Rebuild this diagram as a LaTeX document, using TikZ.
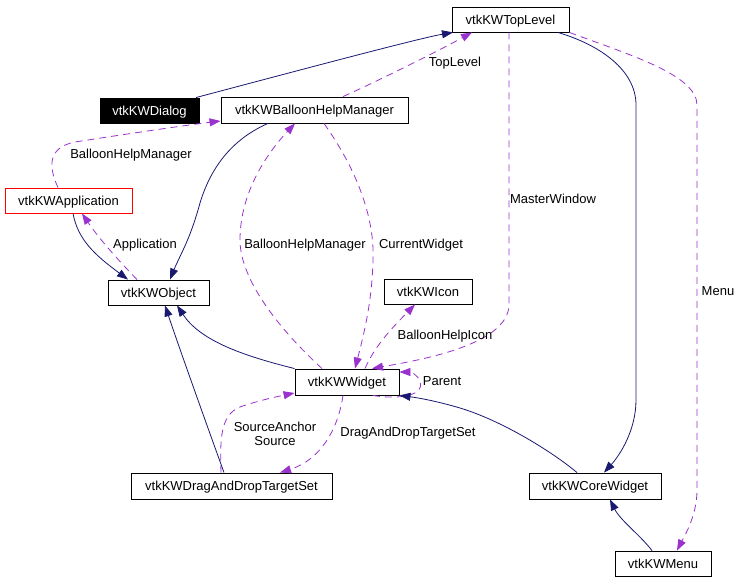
\documentclass[tikz,border=0pt]{standalone}
\usepackage{fontspec}
\setmainfont{Liberation Sans}
\usetikzlibrary{arrows.meta}
\definecolor{navy}{HTML}{191970}
\definecolor{purp}{HTML}{9A32CD}
\begin{document}
\begin{tikzpicture}[x=1pt,y=-1pt,
  cls/.style={draw=black, line width=0.9pt, inner sep=0pt, minimum height=25pt, text height=11pt, text depth=1.7pt, font=\fontsize{13}{15}\selectfont},
  lbl/.style={inner sep=0pt, align=center, font=\fontsize{13}{14}\selectfont},
  inh/.style={draw=navy, line width=0.8pt, -{Triangle[length=11pt,width=8pt]}},
  use/.style={draw=purp, line width=0.8pt, dash pattern=on 7pt off 5pt, -{Triangle[length=11pt,width=8pt]}}]
\useasboundingbox (0,0) rectangle (737,581);
% nodes
\node[cls, minimum width=117pt] (TL) at (510.5,19.5) {vtkKWTopLevel};
\node[cls, minimum width=99pt, fill=black, text=white] (DLG) at (149.5,110.5) {vtkKWDialog};
\node[cls, minimum width=187pt, minimum height=26pt] (BHM) at (314.5,110) {vtkKWBalloonHelpManager};
\node[cls, minimum width=127pt, draw=red] (APP) at (68.5,200.5) {vtkKWApplication};
\node[cls, minimum width=101pt] (OBJ) at (158.5,292.5) {vtkKWObject};
\node[cls, minimum width=88pt] (ICON) at (428,291.5) {vtkKWIcon};
\node[cls, minimum width=104pt, minimum height=26pt] (W) at (347,382) {vtkKWWidget};
\node[cls, minimum width=201pt, minimum height=26pt] (DND) at (231.5,486) {vtkKWDragAndDropTargetSet};
\node[cls, minimum width=132pt, minimum height=26pt] (CW) at (595,486) {vtkKWCoreWidget};
\node[cls, minimum width=96pt] (MENU) at (663,563.5) {vtkKWMenu};
% edges
\draw[inh] ([xshift=46.5pt]DLG.north) .. controls (300,70) and (420,38) .. ([xshift=-57.5pt]TL.south);
\draw[use] ([xshift=28.5pt]BHM.north) .. controls (380,80) and (440,50) .. ([xshift=-38.5pt]TL.south);
\draw[use] ([xshift=-10.5pt]APP.north) .. controls (50,170) and (45,148) .. (75,142) .. controls (120,135) and (180,126) .. ([yshift=-11pt]BHM.west);
\draw[inh] ([xshift=-46.5pt]BHM.south) .. controls (230,140) and (210,170) .. (200,203) .. controls (190,240) and (180,255) .. ([xshift=11.5pt]OBJ.north);
\draw[inh] ([xshift=4.5pt]APP.south) .. controls (78,240) and (95,255) .. ([xshift=-30.5pt]OBJ.north);
\draw[use] ([xshift=-21.5pt]OBJ.north) .. controls (120,262) and (100,240) .. ([xshift=13.5pt]APP.south);
\draw[inh] (W.north west) .. controls (240,355) and (200,340) .. ([xshift=18.5pt]OBJ.south);
\draw[inh] ([xshift=-7.5pt]DND.north) .. controls (205,420) and (180,350) .. ([xshift=6.5pt]OBJ.south);
\draw[use] ([xshift=-25pt]W.north) .. controls (280,330) and (240,280) .. (240,240) .. controls (240,190) and (270,150) .. ([xshift=-19.5pt]BHM.south);
\draw[use] ([xshift=9.5pt]BHM.south) .. controls (350,160) and (375,210) .. (373,260) .. controls (372,300) and (365,330) .. ([xshift=8pt]W.north);
\draw[use] ([xshift=18pt]W.north) .. controls (375,345) and (395,325) .. ([xshift=-13pt]ICON.south);
\draw[use] ([xshift=-1.5pt]TL.south) -- (509,305) .. controls (508,345) and (420,360) .. ([xshift=25pt]W.north);
\draw[use] ([xshift=26pt]W.south) .. controls (400,400) and (425,395) .. (420,382) .. controls (418,374) and (410,372) .. ([yshift=10pt]W.east);
\draw[inh] ([xshift=-18pt]CW.north) .. controls (550,450) and (500,420) .. (460,408) .. controls (440,402) and (420,398) .. (W.south east);
\draw[inh] ([xshift=47.5pt]TL.south) .. controls (600,45) and (636,70) .. (636,105) -- (636,400) .. controls (636,430) and (620,455) .. ([xshift=9pt]CW.north);
\draw[use] (TL.south east) .. controls (630,55) and (697,75) .. (697,105) -- (697,490) .. controls (697,515) and (685,535) .. ([xshift=14pt]MENU.north);
\draw[inh] ([xshift=-11pt]MENU.north) .. controls (640,535) and (620,520) .. ([xshift=15pt]CW.south);
\draw[use] ([xshift=-10.5pt]DND.north) .. controls (220,440) and (220,415) .. (240,407) .. controls (260,400) and (280,396) .. ([yshift=-11pt]W.west);
\draw[use] ([xshift=-4pt]W.south) .. controls (338,430) and (320,460) .. ([xshift=48.5pt]DND.north);
% labels
\node[lbl] (lTop) at (455,63) {TopLevel};
\node[lbl] (lBHM1) at (131,155) {BalloonHelpManager};
\node[lbl] (lApp) at (145,245) {Application};
\node[lbl] (lBHM2) at (305,245) {BalloonHelpManager};
\node[lbl] (lCur) at (421,245) {CurrentWidget};
\node[lbl] (lIcon) at (445,336) {BalloonHelpIcon};
\node[lbl] (lMaster) at (553,199) {MasterWindow};
\node[lbl] (lParent) at (442,381) {Parent};
\node[lbl] (lMenu) at (718,291) {Menu};
\node[lbl] (lSrc) at (275,434) {SourceAnchor\\Source};
\node[lbl] (lDnD) at (408,433) {DragAndDropTargetSet};
\end{tikzpicture}
\end{document}
